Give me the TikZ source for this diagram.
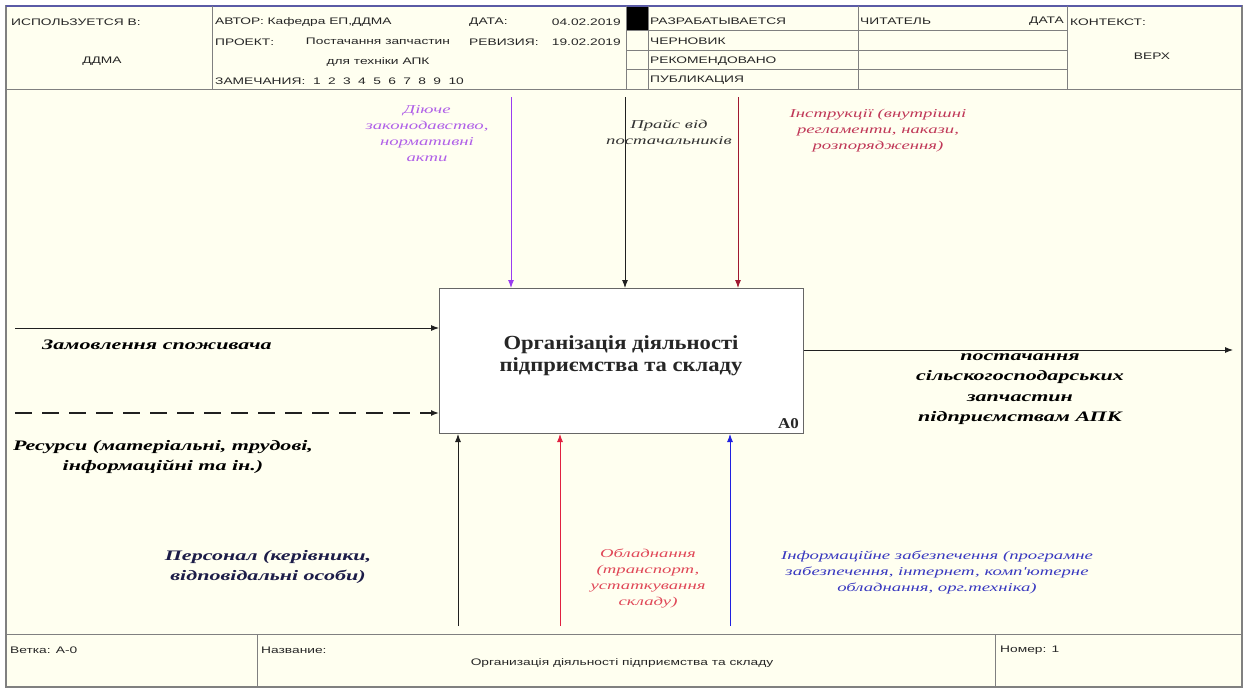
\documentclass[tikz,border=0pt]{standalone}
\usepackage{fontspec}
\setmainfont{Liberation Serif}
\newfontfamily\hdrfont[FakeStretch=1.45]{Liberation Sans}
\newfontfamily\lblfont[FakeStretch=1.52]{Liberation Serif}
\newfontfamily\clrfont[FakeStretch=1.56]{Liberation Serif}
\newfontfamily\ttlfont[FakeStretch=1.13]{Liberation Serif}
\usetikzlibrary{arrows.meta}
\definecolor{bgc}{HTML}{FFFFF0}
\definecolor{framec}{HTML}{808080}
\definecolor{purplec}{HTML}{9A3CF0}
\definecolor{purplet}{HTML}{B060E8}
\definecolor{darkredc}{HTML}{A01830}
\definecolor{darkredt}{HTML}{C03858}
\definecolor{redc}{HTML}{E02040}
\definecolor{redt}{HTML}{E04858}
\definecolor{bluec}{HTML}{2020E0}
\definecolor{bluet}{HTML}{3838C0}
\definecolor{navyt}{HTML}{1C1C48}
\definecolor{arrowk}{HTML}{202020}
\newcommand{\dg}{\hspace{7.4pt}}
\tikzset{
  hdr/.style={font=\hdrfont\fontsize{9.5}{11}\selectfont, inner sep=0pt, text=black!85},
  hdrline/.style={draw=framec, line width=0.9pt},
  blbl/.style={font=\lblfont\bfseries\itshape\fontsize{14.5}{20.5}\selectfont, inner sep=0pt, align=center, text=black},
  clbl/.style={font=\clrfont\itshape\fontsize{12}{16}\selectfont, inner sep=0pt, align=center},
  flow/.style={line width=0.9pt, -{Latex[length=8pt,width=6pt]}},
}
\begin{document}
\begin{tikzpicture}[x=1pt,y=-1pt]
\useasboundingbox (0,0) rectangle (1248,693);
\fill[white] (0,0) rectangle (1248,693);
\fill[bgc] (6,6) rectangle (1242,687);
% outer frame
\draw[draw=framec, line width=1.4pt] (6,6) rectangle (1242,687);
\draw[draw=framec!70!blue, line width=1.4pt] (6,6) -- (1242,6);
% header
\draw[hdrline] (6,89) -- (1242,89);
\draw[hdrline] (212,6) -- (212,89);
\draw[hdrline] (626,6) -- (626,89);
\draw[hdrline] (648,6) -- (648,89);
\draw[hdrline] (858,6) -- (858,89);
\draw[hdrline] (1067,6) -- (1067,89);
\draw[hdrline] (626,30) -- (1067,30);
\draw[hdrline] (626,50) -- (1067,50);
\draw[hdrline] (626,69) -- (1067,69);
\fill[black] (627,7) rectangle (648,30);

\node[hdr, anchor=west] (used) at (11,22) {ИСПОЛЬЗУЕТСЯ В:};
\node[hdr] (ddma) at (102,61) {ДДМА};
\node[hdr, anchor=west] (author) at (215,22) {АВТОР: Кафедра ЕП,ДДМА};
\node[hdr, anchor=west] (proj) at (215,42) {ПРОЕКТ:};
\node[hdr, align=center] (projname) at (378,52) {Постачання запчастин\\[9pt]для техніки АПК};
\node[hdr, anchor=west] (notes) at (215,81) {ЗАМЕЧАНИЯ:\ \ 1\dg 2\dg 3\dg 4\dg 5\dg 6\dg 7\dg 8\dg 9\dg 10};
\node[hdr, anchor=west] (date) at (469,22) {ДАТА:};
\node[hdr, anchor=east] (dateval) at (621,22) {04.02.2019};
\node[hdr, anchor=west] (rev) at (469,42) {РЕВИЗИЯ:};
\node[hdr, anchor=east] (revval) at (621,42) {19.02.2019};
\node[hdr, anchor=west] (st1) at (650,21) {РАЗРАБАТЫВАЕТСЯ};
\node[hdr, anchor=west] (st2) at (650,41) {ЧЕРНОВИК};
\node[hdr, anchor=west] (st3) at (650,61) {РЕКОМЕНДОВАНО};
\node[hdr, anchor=west] (st4) at (650,80) {ПУБЛИКАЦИЯ};
\node[hdr, anchor=west] (reader) at (860,21) {ЧИТАТЕЛЬ};
\node[hdr, anchor=east] (rdate) at (1064,21) {ДАТА};
\node[hdr, anchor=west] (ctx) at (1070,22) {КОНТЕКСТ:};
\node[hdr] (top) at (1152,56) {ВЕРХ};

% bottom strip
\draw[hdrline] (6,634) -- (1242,634);
\draw[hdrline] (257,634) -- (257,687);
\draw[hdrline] (995,634) -- (995,687);
\node[hdr, anchor=west] (node) at (10,650) {Ветка: А-0};
\node[hdr, anchor=west] (namel) at (261,650) {Название:};
\node[hdr] (nameval) at (622,663) {Организація діяльності підприємства та складу};
\node[hdr, anchor=west] (num) at (1000,650) {Номер: 1};

% main box
\node[draw=framec!80!black, line width=1pt, fill=white, minimum width=364pt, minimum height=145pt, anchor=north west, inner sep=0pt] (box) at (439,288) {};
\node[font=\ttlfont\bfseries\fontsize{20}{22}\selectfont, align=center, inner sep=0pt, text=black!85] (title) at (621,356) {Організація діяльності\\підприємства та складу};
\node[font=\ttlfont\bfseries\fontsize{15}{17}\selectfont, anchor=base east, inner sep=0pt, text=black!85] (a0) at (799,428) {A0};

% free ends
\coordinate (t1) at (511,97);
\coordinate (t2) at (625,97);
\coordinate (t3) at (738,97);
\coordinate (b1) at (458,626);
\coordinate (b2) at (560,626);
\coordinate (b3) at (730,626);
\coordinate (l1) at (15,328);
\coordinate (l2) at (15,413);
\coordinate (o1) at (1233,350);

% controls
\draw[flow, draw=purplec] (t1) -- (t1 |- box.north);
\draw[flow, draw=arrowk] (t2) -- (t2 |- box.north);
\draw[flow, draw=darkredc] (t3) -- (t3 |- box.north);
% mechanisms
\draw[flow, draw=arrowk] (b1) -- (b1 |- box.south);
\draw[flow, draw=redc] (b2) -- (b2 |- box.south);
\draw[flow, draw=bluec] (b3) -- (b3 |- box.south);
% inputs
\draw[flow, draw=arrowk] (l1) -- (box.west |- l1);
\draw[flow, draw=arrowk, line width=1.4pt, dash pattern=on 17pt off 10pt] (l2) -- (box.west |- l2);
% output
\draw[flow, draw=arrowk] (box.east |- o1) -- (o1);

% labels
\node[clbl, text=purplet] (lawl) at (427,134) {Діюче\\законодавство,\\нормативні\\акти};
\node[clbl, text=black!80] (pricel) at (669,132) {Прайс від\\постачальників};
\node[clbl, text=darkredt] (instrl) at (878,131) {Інструкції (внутрішні\\регламенти, накази,\\розпорядження)};
\node[blbl, anchor=west] (orderl) at (42,345) {Замовлення споживача};
\node[blbl] (resl) at (163,457) {Ресурси (матеріальні, трудові,\\інформаційні та ін.)};
\node[blbl] (outl) at (1020,389) {постачання\\сільскогосподарських\\запчастин\\підприємствам АПК};
\node[blbl, text=navyt] (persl) at (268,567) {Персонал (керівники,\\відповідальні особи)};
\node[clbl, text=redt] (equipl) at (648,578) {Обладнання\\(транспорт,\\устаткування\\складу)};
\node[clbl, text=bluet] (infol) at (937,572) {Інформаційне забезпечення (програмне\\забезпечення, інтернет, комп'ютерне\\обладнання, орг.техніка)};
\end{tikzpicture}
\end{document}
